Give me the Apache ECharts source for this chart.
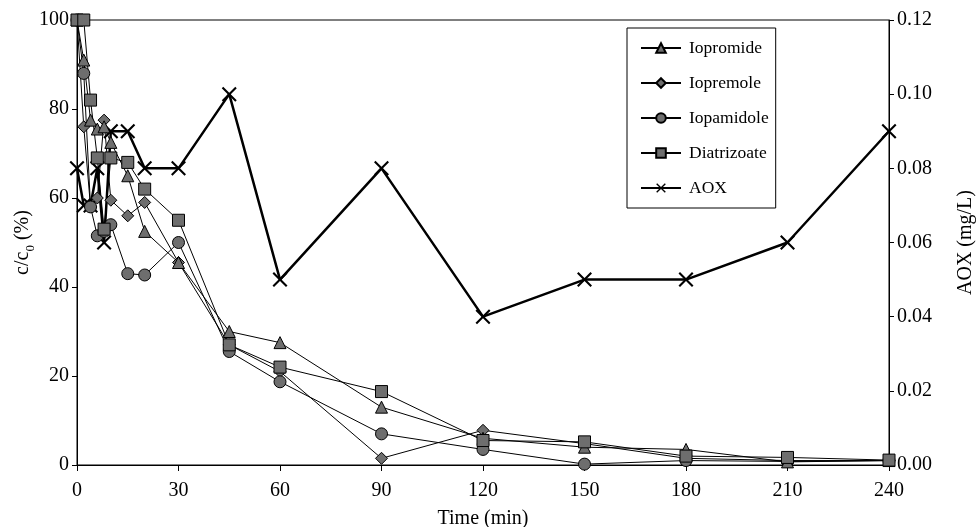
<!DOCTYPE html>
<html><head><meta charset="utf-8">
<script src="https://cdn.jsdelivr.net/npm/echarts@6/dist/echarts.min.js"></script>
<style>html,body{margin:0;padding:0;background:#fff}#c{width:976px;height:527px}</style>
</head><body><div id="c"></div>
<script>
const times = [0,2,4,6,8,10,15,20,30,45,60,90,120,150,180,210,240];
const iopromide   = [100,91,77.5,75.5,76,72.5,65,52.5,45.5,30,27.5,13,6,4,3.5,0.7,1];
const iopremole   = [100,76,58,60,77.5,59.5,56,59,45.5,27,21,1.5,7.8,4.8,1.5,1,1];
const iopamidole  = [100,88,58,51.5,52.5,54,43,42.7,50,25.5,18.7,7,3.5,0.2,1,0.8,1];
const diatrizoate = [100,100,82,69,53,69,68,62,55,27,22,16.5,5.5,5.2,2,1.7,1.1];
const aox = [0.08,0.07,0.07,0.08,0.06,0.09,0.09,0.08,0.08,0.10,0.05,0.08,0.04,0.05,0.05,0.06,0.09];
const xTicks = [0,30,60,90,120,150,180,210,240];

const FONT = 'Liberation Serif';
const FS = 20;
const pairs = v => times.map((t,i)=>[t,v[i]]);
const XSYM = 'path://M0,1L1,0L5,4L9,0L10,1L6,5L10,9L9,10L5,6L1,10L0,9L4,5Z';
function cSeries(name, data, symbol, size){
  return {name, type:'line', data:pairs(data), symbol, symbolSize:size,
    lineStyle:{color:'#000', width:1}, itemStyle:{color:'#6e6e6e', borderColor:'#000', borderWidth:1},
    emphasis:{disabled:true}, z:3};
}
const chart = echarts.init(document.getElementById('c'), null, {renderer:'canvas'});
chart.setOption({
  animation:false,
  backgroundColor:'#fff',
  textStyle:{fontFamily:FONT, color:'#000'},
  grid:{left:77, right:87, top:20, bottom:62, containLabel:false, outerBoundsMode:'none',
        show:true, borderColor:'#000', borderWidth:1, backgroundColor:'transparent'},
  legend:{
    orient:'vertical', left:627, top:28, padding:[11,7,11,13],
    borderColor:'#000', borderWidth:1, backgroundColor:'#fff',
    itemWidth:40, itemHeight:12, itemGap:17,
    textStyle:{fontFamily:FONT, fontSize:17.5, color:'#000', padding:[0,0,0,3]},
    data:['Iopromide','Iopremole','Iopamidole','Diatrizoate','AOX']
  },
  xAxis:{type:'value', min:0, max:240, interval:30,
    name:'Time (min)', nameLocation:'middle', nameGap:44, nameMoveOverlap:false,
    nameTextStyle:{fontFamily:FONT, fontSize:FS, color:'#000'},
    axisLine:{lineStyle:{color:'#000', width:1}},
    axisTick:{show:true, length:6, lineStyle:{color:'#000'}},
    axisLabel:{fontFamily:FONT, fontSize:FS, color:'#000', margin:16},
    splitLine:{show:false}},
  yAxis:[
    {type:'value', min:0, max:100, interval:20,
     name:'{a|c/c}{b|0}{a| (%)}', nameLocation:'middle', nameGap:44, nameRotate:90, nameMoveOverlap:false,
     nameTextStyle:{rich:{a:{fontFamily:FONT, fontSize:FS, color:'#000', lineHeight:22, verticalAlign:'bottom'},
                          b:{fontFamily:FONT, fontSize:13, color:'#000', lineHeight:14, verticalAlign:'bottom', padding:[0,0,-4,0]}}},
     axisLine:{show:true, lineStyle:{color:'#000'}},
     axisTick:{show:true, length:5, lineStyle:{color:'#000'}},
     axisLabel:{fontFamily:FONT, fontSize:FS, color:'#000', margin:8},
     splitLine:{show:false}},
    {type:'value', min:0, max:0.12, interval:0.02, position:'right',
     name:'AOX (mg/L)', nameLocation:'middle', nameGap:67, nameRotate:90, nameMoveOverlap:false,
     nameTextStyle:{fontFamily:FONT, fontSize:FS, color:'#000'},
     axisLine:{show:true, lineStyle:{color:'#000'}},
     axisTick:{show:true, length:5, lineStyle:{color:'#000'}},
     axisLabel:{fontFamily:FONT, fontSize:FS, color:'#000', margin:8, formatter:v=>v.toFixed(2)},
     splitLine:{show:false}}
  ],
  series:[
    {name:'AOX', type:'line', yAxisIndex:1, data:pairs(aox), symbol:XSYM, symbolSize:15,
     lineStyle:{color:'#000', width:2.5}, itemStyle:{color:'#000', borderWidth:0},
     emphasis:{disabled:true}, z:2},
    cSeries('Iopremole', iopremole, 'diamond', 12),
    cSeries('Iopamidole', iopamidole, 'circle', 12),
    cSeries('Iopromide', iopromide, 'triangle', 12),
    cSeries('Diatrizoate', diatrizoate, 'rect', 12)
  ]
});
</script></body></html>
